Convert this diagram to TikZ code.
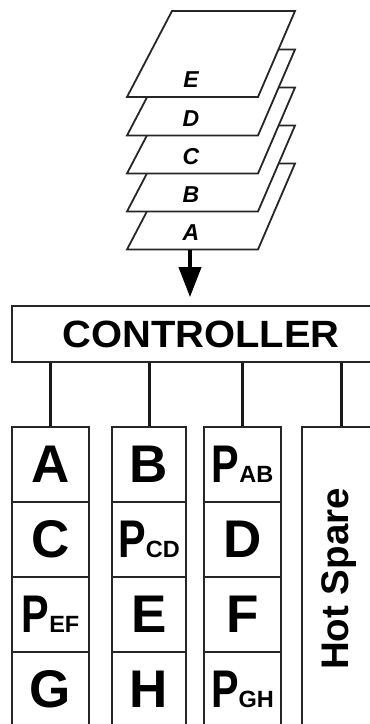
\documentclass[tikz,border=0pt]{standalone}
\usepackage{fontspec}
\setmainfont{Liberation Sans}
\usetikzlibrary{arrows.meta}
\newcommand\Psub[1]{\scalebox{0.78}[1]{P}{\fontsize{23.5}{23.5}\selectfont #1}}
\begin{document}
\begin{tikzpicture}[x=1pt,y=-1pt,
  frame/.style={draw=black!85,line width=1.8pt},
  plane/.style={frame,fill=white,line join=miter},
  plabel/.style={inner sep=0pt,font=\bfseries\itshape\fontsize{23}{23}\selectfont},
  cell/.style={frame,fill=white,minimum height=75pt,inner sep=0pt,font=\bfseries\fontsize{53}{53}\selectfont},
  conn/.style={draw=black!90,line width=3pt},
  arr/.style={line width=4pt,-{Triangle[length=30pt,width=22pt]},shorten >=8pt}
]
\useasboundingbox (0,0) rectangle (370,724);
\fill[white] (0,0) rectangle (370,724);

% stack of data planes
\foreach \n/\yb in {A/249.5, B/211.5, C/173.5, D/135.5, E/97}{
  \filldraw[plane] (127,\yb) -- (258,\yb) -- (295,\yb-86) -- (172,\yb-86) -- cycle;
  \node[plabel] (lab\n) at (191,\yb-17) {\n};
}
\coordinate (pa) at (190,249.5);

% controller
\node[frame,fill=white,minimum width=378pt,minimum height=56pt,inner sep=0pt,
      font=\bfseries\fontsize{38}{38}\selectfont] (ctrl) at (201,334) {\scalebox{1.05}[1]{CONTROLLER}};
\draw[arr] (pa) -- (pa |- ctrl.north);

% disk columns
\node[cell,minimum width=77pt] (a1) at (50.5,464.5) {A};
\node[cell,minimum width=77pt] (a2) at (50.5,539.5) {C};
\node[cell,minimum width=77pt] (a3) at (50.5,614.5) {\Psub{EF}};
\node[cell,minimum width=77pt] (a4) at (50.5,689.5) {G};

\node[cell,minimum width=74pt] (b1) at (149,464.5) {B};
\node[cell,minimum width=74pt] (b2) at (149,539.5) {\Psub{CD}};
\node[cell,minimum width=74pt] (b3) at (149,614.5) {E};
\node[cell,minimum width=74pt] (b4) at (149,689.5) {H};

\node[cell,minimum width=77pt] (c1) at (242.5,464.5) {\Psub{AB}};
\node[cell,minimum width=77pt] (c2) at (242.5,539.5) {D};
\node[cell,minimum width=77pt] (c3) at (242.5,614.5) {F};
\node[cell,minimum width=77pt] (c4) at (242.5,689.5) {\Psub{GH}};

\node[frame,fill=white,minimum width=78pt,minimum height=303pt,inner sep=0pt] (hs) at (341,578.5) {};
\node[rotate=90,anchor=base,inner sep=0pt,font=\bfseries\fontsize{38.5}{38.5}\selectfont] (hstext) at (348,579) {Hot Spare};

% connectors
\draw[conn] (a1.north) -- (a1.north |- ctrl.south);
\draw[conn] (b1.north) -- (b1.north |- ctrl.south);
\draw[conn] (c1.north) -- (c1.north |- ctrl.south);
\draw[conn] (hs.north) -- (hs.north |- ctrl.south);
\end{tikzpicture}
\end{document}
